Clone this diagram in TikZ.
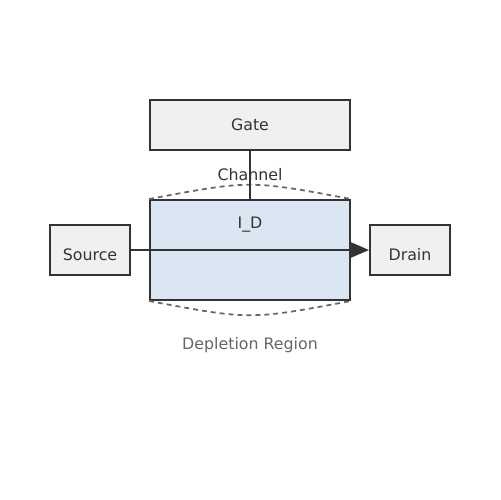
\documentclass[tikz,border=0pt]{standalone}
\usepackage{fontspec}
\setmainfont{DejaVu Sans}
\usetikzlibrary{arrows.meta}

\definecolor{boxfill}{HTML}{F0F0F0}
\definecolor{chanfill}{HTML}{DAE6F2}
\definecolor{edge}{HTML}{333333}
\definecolor{dep}{HTML}{666666}

\tikzset{
  part/.style={draw=edge, fill=boxfill, line width=1.1pt, inner sep=0pt},
  txt/.style={text=edge, font=\fontsize{9}{11}\selectfont, inner sep=0pt},
  wire/.style={draw=edge, line width=1.1pt},
  deplete/.style={draw=dep, line width=1pt, dash pattern=on 2.8pt off 2.3pt}
}

\begin{document}
\begin{tikzpicture}[x=0.02cm, y=-0.02cm]
  \useasboundingbox (0,0) rectangle (500,500);
  % boxes
  \node[part, minimum width=4cm, minimum height=1cm] (gate) at (250,125) {};
  \node[part, fill=chanfill, minimum width=4cm, minimum height=2cm] (chan) at (250,250) {};
  \node[part, minimum width=1.6cm, minimum height=1cm] (src) at (90,250) {};
  \node[part, minimum width=1.6cm, minimum height=1cm] (drn) at (410,250) {};
  % texts
  \node[txt] (gatetxt) at (250,125) {Gate};
  \node[txt] (chantxt) at (250,175) {Channel};
  \node[txt] (idtxt) at (250,225) {I\_D};
  \node[txt] (srctxt) at (90,255) {Source};
  \node[txt] (drntxt) at (410,255) {Drain};
  \node[txt, text=dep] (deptxt) at (250,345) {Depletion Region};
  % depletion edges
  \draw[deplete] (chan.north west) .. controls (250,180) .. (chan.north east);
  \draw[deplete] (chan.south west) .. controls (250,320) .. (chan.south east);
  % connections
  \draw[wire] (gate.south) -- (chan.north);
  \draw[wire, -{Triangle[length=0.36cm, width=0.3cm]}] (src.east) -- (drn.west);
\end{tikzpicture}
\end{document}
